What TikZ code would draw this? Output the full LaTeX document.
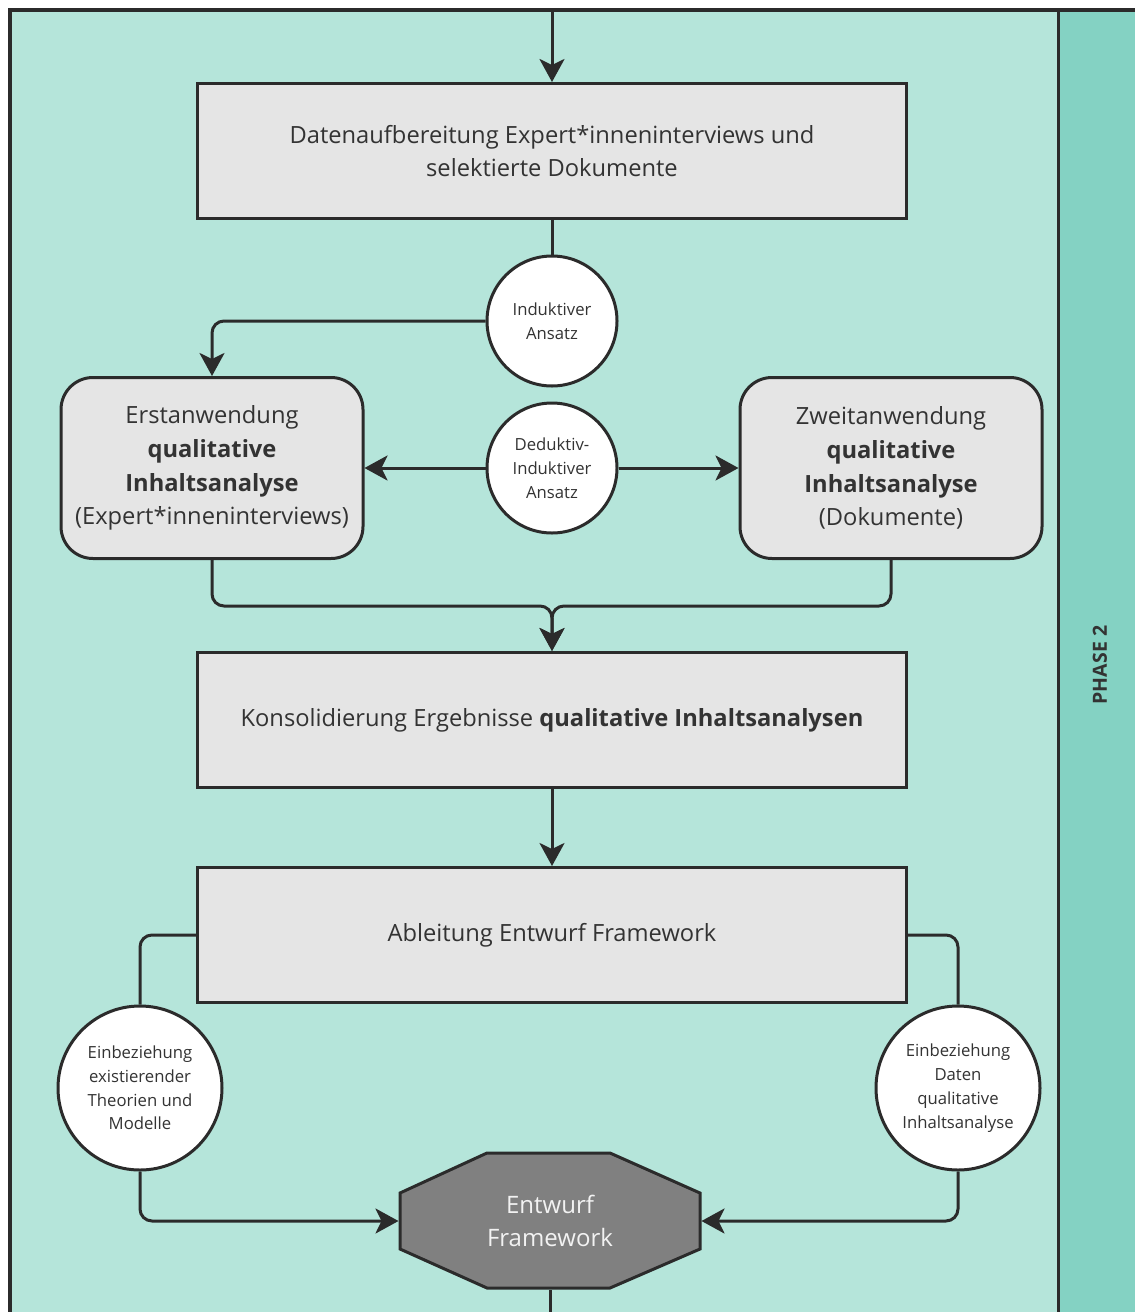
\documentclass[tikz,border=0pt]{standalone}
\usepackage{fontspec}
\setmainfont{Open Sans}
\usetikzlibrary{arrows.meta,calc}

\definecolor{lanebg}{HTML}{B5E5DA}
\definecolor{lanehead}{HTML}{84D2C3}
\definecolor{boxfill}{HTML}{E5E5E5}
\definecolor{ink}{HTML}{2B2B2B}
\definecolor{txt}{HTML}{333333}
\definecolor{octfill}{HTML}{808080}
\definecolor{octtxt}{HTML}{F2F2F2}

\newcommand\bigtxt{\fontsize{23.7}{33.8}\selectfont}
\newcommand\smalltxt{\fontsize{16.7}{23.8}\selectfont}

\tikzset{
  procbox/.style={draw=ink, line width=3pt, fill=boxfill, rectangle,
    minimum width=709pt, minimum height=135pt, inner sep=0pt,
    align=center, text=txt, font=\bigtxt},
  roundbox/.style={procbox, rounded corners=32pt,
    minimum width=302pt, minimum height=181pt},
  tagcircle/.style={draw=ink, line width=3pt, fill=white, circle,
    inner sep=0pt, align=center, text=txt, font=\smalltxt},
  conn/.style={draw=ink, line width=3pt, rounded corners=12pt},
  arrowconn/.style={conn, -{Stealth[length=23pt,width=25pt,inset=6pt]}},
}

\begin{document}
\begin{tikzpicture}[x=1pt,y=-1pt]
\useasboundingbox (0,0) rectangle (1135,1312);

% swimlane background
\fill[white] (0,0) rectangle (1135,1312);
\fill[lanebg] (10,10) rectangle (1058,1312);
\fill[lanehead] (1058,10) rectangle (1135,1312);
\draw[ink, line width=3.5pt] (10,1312) -- (10,10) -- (1135,10);
\draw[ink, line width=3pt] (1058,10) -- (1058,1312);
\node[rotate=90, font=\fontsize{19.5}{22}\selectfont\bfseries, text=txt] (phase) at (1100,665) {PHASE 2};

% process steps
\node[procbox] (prep) at (552,151)
  {Datenaufbereitung Expert*inneninterviews und\\selektierte Dokumente};
\node[tagcircle, minimum size=130pt] (ind) at (552,321) {Induktiver\\Ansatz};
\node[roundbox] (erst) at (212,468)
  {Erstanwendung\\\textbf{qualitative}\\\textbf{Inhaltsanalyse}\\(Expert*inneninterviews)};
\node[roundbox] (zweit) at (891,468)
  {Zweitanwendung\\\textbf{qualitative}\\\textbf{Inhaltsanalyse}\\(Dokumente)};
\node[tagcircle, minimum size=130pt] (ded) at (552,468) {Deduktiv-\\Induktiver\\Ansatz};
\node[procbox] (kons) at (552,720)
  {Konsolidierung Ergebnisse \textbf{qualitative Inhaltsanalysen}};
\node[procbox] (abl) at (552,935) {Ableitung Entwurf Framework};
\node[tagcircle, minimum size=164pt] (einL) at (140,1088)
  {Einbeziehung\\existierender\\Theorien und\\Modelle};
\node[tagcircle, minimum size=164pt] (einR) at (958,1088)
  {Einbeziehung\\Daten\\qualitative\\Inhaltsanalyse};

% result: octagon
\filldraw[fill=octfill, draw=ink, line width=3pt, line join=miter]
  (487,1153) -- (610,1153) -- (700,1193) -- (700,1249) -- (610,1288)
  -- (487,1288) -- (400,1249) -- (400,1193) -- cycle;
\node[rectangle, minimum width=300pt, minimum height=135pt, inner sep=0pt,
  outer sep=1.5pt, align=center, text=octtxt, font=\fontsize{24}{33.5}\selectfont]
  (oct) at (550,1221) {Entwurf\\Framework};

% connectors
\coordinate (topin) at (552,10);
\coordinate (merge) at (552,606);
\coordinate (botout) at (550,1312);
\draw[arrowconn] (topin) -- (prep.north);
\draw[conn] (prep.south) -- (ind.north);
\draw[arrowconn] (ind.west) -| (erst.north);
\draw[arrowconn] (ded.west) -- (erst.east);
\draw[arrowconn] (ded.east) -- (zweit.west);
\draw[arrowconn] (erst.south) |- (merge) -- (kons.north);
\draw[arrowconn] (zweit.south) |- (merge) -- (kons.north);
\draw[arrowconn] (kons.south) -- (abl.north);
\draw[conn] (abl.west) -| (einL.north);
\draw[conn] (abl.east) -| (einR.north);
\draw[arrowconn] (einL.south) |- (oct.west);
\draw[arrowconn] (einR.south) |- (oct.east);
\draw[conn] (oct.south) -- (botout);
\end{tikzpicture}
\end{document}
